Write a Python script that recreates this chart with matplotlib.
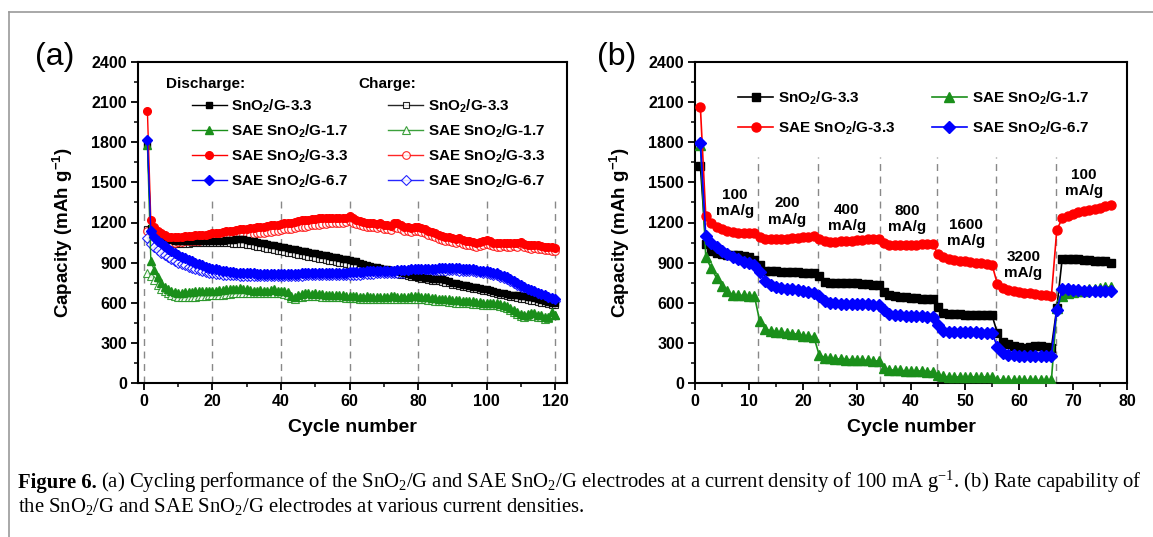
import matplotlib
matplotlib.use('Agg')
import matplotlib.pyplot as plt
import numpy as np

plt.rcParams['font.family'] = ['Liberation Sans', 'DejaVu Sans']
plt.rcParams['font.weight'] = 'bold'
plt.rcParams['axes.linewidth'] = 1.5
plt.rcParams['axes.unicode_minus'] = True

# ---------------- DATA : panel (a) cycling at 100 mA/g ----------------
cycles_a = np.arange(1, 121)

a_sno2_dis = [1790, 1160, 1120, 1100, 1090, 1080, 1075, 1070, 1065, 1060,
              1060, 1060, 1060, 1060, 1060, 1060, 1060, 1060, 1060, 1060,
              1060, 1065, 1065, 1070, 1070, 1070, 1075, 1075, 1075, 1070,
              1065, 1060, 1055, 1050, 1045, 1040, 1035, 1030, 1025, 1020,
              1015, 1010, 1005, 1000, 995, 990, 985, 980, 975, 970,
              965, 960, 955, 950, 945, 940, 935, 930, 925, 920,
              915, 910, 900, 890, 880, 875, 870, 865, 860, 855,
              850, 845, 840, 835, 830, 825, 815, 810, 800, 795,
              790, 785, 785, 780, 780, 780, 775, 770, 760, 750,
              745, 740, 735, 730, 725, 720, 715, 710, 705, 700,
              695, 690, 680, 675, 670, 665, 660, 655, 655, 650,
              650, 645, 640, 635, 625, 620, 615, 605, 600, 595]
a_sno2_chg = [1150, 1090, 1070, 1060, 1055, 1050, 1045, 1045, 1040, 1040,
              1040, 1040, 1040, 1045, 1045, 1045, 1045, 1045, 1050, 1050,
              1050, 1050, 1045, 1045, 1045, 1040, 1040, 1040, 1040, 1035,
              1030, 1025, 1020, 1015, 1010, 1005, 1000, 995, 990, 985,
              980, 975, 970, 965, 960, 955, 950, 945, 940, 935,
              930, 925, 920, 915, 910, 905, 900, 895, 890, 885,
              880, 875, 865, 860, 855, 850, 845, 840, 840, 835,
              830, 825, 820, 815, 810, 805, 800, 795, 790, 785,
              780, 775, 770, 765, 765, 760, 755, 750, 745, 735,
              730, 725, 720, 715, 710, 705, 700, 695, 690, 685,
              680, 675, 665, 660, 655, 650, 645, 640, 635, 630,
              625, 620, 615, 610, 605, 600, 595, 590, 585, 580]
a_sae17_dis = [1780, 910, 845, 790, 750, 720, 700, 690, 680, 675,
               675, 680, 680, 680, 685, 685, 685, 690, 690, 690,
               690, 695, 695, 700, 700, 700, 705, 710, 705, 700,
               695, 690, 690, 695, 690, 690, 695, 700, 690, 690,
               685, 680, 650, 640, 660, 665, 670, 670, 665, 670,
               665, 665, 660, 660, 660, 655, 655, 655, 650, 650,
               650, 650, 645, 645, 650, 645, 640, 640, 640, 645,
               645, 650, 650, 645, 645, 640, 645, 650, 650, 650,
               645, 640, 640, 635, 635, 630, 630, 625, 625, 620,
               620, 620, 615, 615, 610, 610, 605, 605, 600, 600,
               600, 595, 595, 590, 585, 575, 560, 545, 530, 515,
               510, 515, 525, 520, 510, 505, 490, 495, 530, 510]
a_sae17_chg = [820, 800, 770, 735, 705, 685, 670, 660, 650, 645,
               640, 640, 645, 645, 645, 650, 650, 650, 655, 655,
               655, 660, 660, 665, 665, 670, 670, 675, 675, 675,
               675, 670, 670, 670, 670, 675, 675, 675, 670, 670,
               665, 660, 635, 625, 640, 645, 650, 650, 650, 650,
               650, 645, 645, 645, 640, 640, 640, 640, 635, 635,
               635, 635, 630, 630, 630, 630, 625, 625, 625, 625,
               625, 630, 630, 630, 625, 625, 625, 630, 630, 630,
               625, 625, 620, 620, 615, 615, 610, 610, 605, 605,
               600, 600, 600, 595, 595, 590, 590, 590, 585, 585,
               585, 580, 580, 575, 570, 560, 545, 530, 515, 500,
               495, 500, 505, 500, 495, 490, 480, 485, 515, 505]
a_sae33_dis = [2030, 1215, 1170, 1140, 1120, 1105, 1095, 1090, 1090, 1095,
               1095, 1100, 1100, 1100, 1105, 1105, 1110, 1110, 1115, 1120,
               1120, 1125, 1130, 1135, 1140, 1140, 1145, 1150, 1150, 1155,
               1160, 1160, 1165, 1170, 1170, 1175, 1180, 1180, 1185, 1190,
               1195, 1200, 1200, 1205, 1210, 1215, 1215, 1220, 1225, 1225,
               1230, 1235, 1235, 1230, 1235, 1230, 1235, 1230, 1235, 1245,
               1235, 1220, 1210, 1205, 1200, 1195, 1200, 1190, 1195, 1185,
               1180, 1175, 1200, 1195, 1180, 1170, 1165, 1160, 1170, 1165,
               1160, 1150, 1140, 1130, 1120, 1110, 1100, 1095, 1090, 1085,
               1080, 1085, 1070, 1065, 1060, 1055, 1050, 1055, 1065, 1070,
               1060, 1050, 1045, 1045, 1050, 1045, 1045, 1050, 1045, 1055,
               1040, 1035, 1030, 1035, 1030, 1025, 1020, 1020, 1015, 1010]
a_sae33_chg = [1140, 1120, 1090, 1070, 1060, 1050, 1050, 1045, 1050, 1055,
               1055, 1060, 1060, 1060, 1065, 1065, 1070, 1070, 1075, 1075,
               1080, 1085, 1085, 1090, 1095, 1095, 1100, 1100, 1105, 1110,
               1110, 1115, 1120, 1120, 1125, 1130, 1130, 1135, 1140, 1145,
               1150, 1150, 1155, 1160, 1165, 1165, 1170, 1175, 1180, 1185,
               1185, 1190, 1190, 1195, 1195, 1200, 1200, 1200, 1205, 1210,
               1200, 1190, 1180, 1175, 1170, 1165, 1170, 1160, 1165, 1155,
               1150, 1145, 1165, 1160, 1150, 1140, 1135, 1130, 1140, 1135,
               1130, 1120, 1110, 1100, 1090, 1080, 1070, 1065, 1060, 1055,
               1050, 1055, 1040, 1035, 1030, 1025, 1020, 1025, 1035, 1040,
               1030, 1025, 1020, 1020, 1025, 1020, 1020, 1025, 1020, 1030,
               1015, 1010, 1005, 1010, 1005, 1000, 995, 995, 990, 990]
a_sae67_dis = [1820, 1140, 1090, 1065, 1045, 1025, 1005, 990, 975, 960,
               945, 935, 920, 910, 900, 890, 880, 870, 860, 855,
               850, 845, 840, 835, 830, 830, 825, 825, 820, 820,
               820, 820, 815, 815, 815, 815, 815, 815, 815, 815,
               815, 815, 815, 815, 815, 820, 820, 820, 820, 820,
               825, 825, 825, 825, 825, 825, 825, 825, 825, 830,
               830, 830, 830, 830, 835, 835, 835, 835, 840, 840,
               840, 840, 840, 845, 845, 845, 845, 850, 850, 850,
               850, 855, 855, 855, 855, 860, 860, 860, 860, 860,
               860, 860, 855, 855, 850, 850, 845, 840, 840, 835,
               830, 825, 820, 810, 800, 790, 775, 760, 745, 730,
               720, 705, 695, 685, 675, 665, 655, 645, 635, 630]
a_sae67_chg = [1085, 1040, 1015, 995, 975, 960, 945, 930, 915, 900,
               890, 880, 870, 860, 850, 845, 835, 830, 825, 820,
               815, 815, 810, 810, 805, 805, 805, 800, 800, 800,
               800, 800, 800, 800, 800, 800, 800, 800, 800, 800,
               800, 800, 800, 800, 800, 800, 805, 805, 805, 805,
               805, 805, 805, 805, 805, 805, 805, 805, 810, 810,
               810, 810, 810, 815, 815, 815, 815, 820, 820, 820,
               820, 820, 825, 825, 825, 825, 830, 830, 830, 830,
               835, 835, 835, 840, 840, 840, 840, 840, 845, 845,
               845, 840, 840, 840, 835, 835, 830, 830, 825, 820,
               815, 810, 805, 795, 785, 775, 760, 745, 730, 715,
               705, 690, 680, 670, 660, 650, 640, 630, 620, 610]

# ---------------- DATA : panel (b) rate capability ----------------
cycles_b = np.arange(1, 78)
b_sno2 = [1620, 1040, 990, 970, 965, 960, 955, 955, 950, 945, 920,
          880, 840, 835, 835, 830, 830, 830, 830, 825, 825, 820,
          800, 755, 750, 750, 750, 745, 745, 745, 740, 740, 735, 735,
          680, 655, 650, 645, 640, 635, 635, 630, 630, 625,
          570, 520, 515, 515, 515, 510, 510, 510, 505, 505, 505,
          375, 310, 290, 280, 270, 265, 270, 275, 275, 270, 265,
          560, 930, 930, 925, 925, 920, 920, 915, 915, 910, 900]
b_sae17 = [1780, 940, 860, 785, 725, 685, 660, 655, 655, 650, 650,
           460, 405, 390, 385, 380, 375, 370, 365, 355, 350, 345,
           210, 190, 185, 180, 180, 175, 175, 175, 170, 170, 165, 165,
           110, 100, 95, 95, 90, 90, 90, 90, 85, 85,
           60, 50, 45, 45, 45, 45, 45, 45, 45, 45, 45,
           25, 20, 20, 20, 20, 20, 20, 20, 20, 20, 20,
           560, 650, 670, 680, 690, 690, 700, 700, 710, 715, 720]
b_sae33 = [2060, 1245, 1195, 1170, 1155, 1140, 1130, 1125, 1120, 1120, 1120,
           1095, 1080, 1075, 1075, 1080, 1080, 1085, 1085, 1090, 1095, 1100,
           1075, 1060, 1055, 1055, 1060, 1060, 1065, 1070, 1070, 1075, 1080, 1080,
           1045, 1035, 1030, 1030, 1030, 1035, 1035, 1040, 1040, 1040,
           965, 940, 930, 920, 915, 910, 905, 900, 895, 890, 885,
           740, 710, 695, 690, 680, 675, 670, 665, 660, 655, 650,
           1145, 1230, 1250, 1265, 1275, 1285, 1295, 1300, 1310, 1320, 1330]
b_sae67 = [1795, 1100, 1045, 1020, 990, 965, 945, 925, 905, 895, 880,
           830, 760, 730, 715, 710, 705, 700, 695, 690, 680, 675,
           650, 610, 595, 595, 590, 590, 590, 590, 590, 590, 585, 585,
           545, 515, 505, 505, 500, 500, 500, 500, 495, 495,
           435, 390, 385, 385, 380, 380, 380, 380, 375, 375, 375,
           270, 225, 210, 210, 205, 205, 205, 205, 205, 205, 205,
           545, 700, 700, 695, 695, 690, 690, 690, 690, 690, 690]
b_rate_labels = ['100\nmA/g', '200\nmA/g', '400\nmA/g', '800\nmA/g',
                 '1600\nmA/g', '3200\nmA/g', '100\nmA/g']

series_names = [r'SnO$\mathregular{_2}$/G-3.3', r'SAE SnO$\mathregular{_2}$/G-1.7',
                r'SAE SnO$\mathregular{_2}$/G-3.3', r'SAE SnO$\mathregular{_2}$/G-6.7']

# ---------------- LAYOUT ----------------
W, H = 1153, 537
colors = ['#000000', '#1a8f1a', '#ff0000', '#0000ff']
markers = ['s', '^', 'o', 'D']
msize_a = [5, 6, 5.5, 5]
msize_b = [6, 7, 6.5, 6]
a_div_x = [0, 20, 40, 60, 80, 100, 120]
a_div_top = 1370
b_div_x = [11.7, 22.7, 34.2, 44.8, 55.8, 66.9]
b_div_top = 1690
b_label_x = [7.4, 17.0, 28.1, 39.3, 50.2, 60.8, 72.0]
b_label_y = [1345, 1280, 1234, 1226, 1122, 882, 1495]

fig = plt.figure(figsize=(W / 100, H / 100), dpi=100)
axA = fig.add_axes([138 / W, 1 - 383 / H, 429 / W, 321 / H])
axB = fig.add_axes([695 / W, 1 - 383 / H, 432 / W, 321 / H])

# page frame lines
fig.add_artist(plt.Line2D([9 / W, 9 / W], [0, 1 - 12 / H], color='#9a9a9a', lw=1.2))
fig.add_artist(plt.Line2D([9 / W, 1], [1 - 12 / H, 1 - 12 / H], color='#9a9a9a', lw=1.2))

# ---- panel (a)
for x in a_div_x:
    axA.plot([x, x], [0, a_div_top], color='#888888', lw=1, ls=(0, (5, 4)), zorder=1)

a_dis = [a_sno2_dis, a_sae17_dis, a_sae33_dis, a_sae67_dis]
a_chg = [a_sno2_chg, a_sae17_chg, a_sae33_chg, a_sae67_chg]
chg_handles = []
for i in range(4):
    h, = axA.plot(cycles_a, a_chg[i], color=colors[i], marker=markers[i], ms=msize_a[i],
                  mfc='white', mec=colors[i], mew=0.8, lw=1, label=series_names[i], zorder=2,
                  alpha=0.85)
    chg_handles.append(h)
dis_handles = []
for i in range(4):
    h, = axA.plot(cycles_a, a_dis[i], color=colors[i], marker=markers[i], ms=msize_a[i],
                  mfc=colors[i], mec=colors[i], lw=1, label=series_names[i], zorder=3)
    dis_handles.append(h)

axA.set_xlim(-1.75, 123.5)
axA.set_ylim(0, 2400)
axA.set_xticks(range(0, 121, 20))
axA.set_xticks(range(10, 121, 20), minor=True)
axA.set_yticks(range(0, 2401, 300))
axA.set_yticks(range(150, 2400, 300), minor=True)

axA.legend(handles=dis_handles + chg_handles, ncol=2, loc='upper left',
           bbox_to_anchor=(0.125, 0.89), frameon=False, fontsize=11,
           handlelength=2.3, handletextpad=0.3, columnspacing=2.6,
           labelspacing=0.5, borderpad=0, borderaxespad=0)
axA.text(0.066, 0.931, 'Discharge:', transform=axA.transAxes, fontsize=11,
         fontweight='bold', va='center', ha='left')
axA.text(0.513, 0.931, 'Charge:', transform=axA.transAxes, fontsize=11,
         fontweight='bold', va='center', ha='left')

# ---- panel (b)
for x in b_div_x:
    axB.plot([x, x], [0, b_div_top], color='#888888', lw=1, ls=(0, (5, 4)), zorder=1)
b_all = [b_sno2, b_sae17, b_sae33, b_sae67]
b_handles = []
for i in range(4):
    h, = axB.plot(cycles_b, b_all[i], color=colors[i], marker=markers[i], ms=msize_b[i],
                  mfc=colors[i], mec=colors[i], lw=1.2, label=series_names[i], zorder=3)
    b_handles.append(h)
for lab, x, y in zip(b_rate_labels, b_label_x, b_label_y):
    axB.text(x, y, lab, fontsize=11, fontweight='bold', ha='center', va='center',
             linespacing=1.25, zorder=4)

axB.set_xlim(0, 80)
axB.set_ylim(0, 2400)
axB.set_xticks(range(0, 81, 10))
axB.set_xticks(range(5, 80, 10), minor=True)
axB.set_yticks(range(0, 2401, 300))
axB.set_yticks(range(150, 2400, 300), minor=True)
# column-filled legend: column 1 = black, red; column 2 = green, blue
axB.legend(handles=[b_handles[0], b_handles[2], b_handles[1], b_handles[3]], ncol=2,
           loc='upper left', bbox_to_anchor=(0.10, 0.915),
           frameon=False, fontsize=11, handlelength=2.3, handletextpad=0.3,
           columnspacing=2.4, labelspacing=0.85, borderpad=0, borderaxespad=0)

for ax, ylx in ((axA, -0.175), (axB, -0.174)):
    ax.tick_params(which='major', direction='out', length=5, width=1.3, labelsize=11.5, pad=3)
    ax.tick_params(which='minor', direction='out', length=3, width=1.1)
    ax.tick_params(top=False, right=False)
    for lbl in ax.get_xticklabels() + ax.get_yticklabels():
        lbl.set_fontweight('bold')
    ax.set_xlabel('Cycle number', fontsize=14, fontweight='bold')
    ax.set_ylabel(r'Capacity (mAh g$\mathregular{^{-1}}$)', fontsize=13.5, fontweight='bold')
    ax.xaxis.set_label_coords(0.5, -0.14)
    ax.xaxis.label.set_va('center')
    ax.yaxis.set_label_coords(ylx, 0.47)
    ax.yaxis.label.set_va('center')

fig.text(35 / W, 1 - 57 / H, '(a)', fontsize=23, fontweight='normal', va='center', ha='left')
fig.text(597 / W, 1 - 57 / H, '(b)', fontsize=23, fontweight='normal', va='center', ha='left')

# ---- caption
serif = ['Liberation Serif', 'DejaVu Serif']
renderer = fig.canvas.get_renderer()
line1 = [('Figure 6.', 'bold'),
         (r'(a) Cycling performance of the SnO$\mathregular{_2}$/G and SAE SnO$\mathregular{_2}$/G '
          r'electrodes at a current density of 100 mA g$\mathregular{^{-1}}$. (b) Rate capability of',
          'normal')]
line2 = [(r'the SnO$\mathregular{_2}$/G and SAE SnO$\mathregular{_2}$/G electrodes at various current densities.',
          'normal')]


def draw_line(parts, x_px, y_px, fs):
    x = x_px
    objs = []
    for txt, wt in parts:
        t = fig.text(x / W, 1 - y_px / H, txt, fontsize=fs, fontweight=wt, family=serif,
                     va='baseline', ha='left')
        objs.append(t)
        x += t.get_window_extent(renderer).width + fs * 0.3
    return objs, x - fs * 0.3 - x_px


fs = 12.0
objs, wdt = draw_line(line1, 18, 488, fs)
for o in objs:
    o.remove()
fs = fs * 1119 / wdt
draw_line(line1, 18, 488, fs)
draw_line(line2, 18, 512, fs)

fig.savefig('out.png', dpi=100)
